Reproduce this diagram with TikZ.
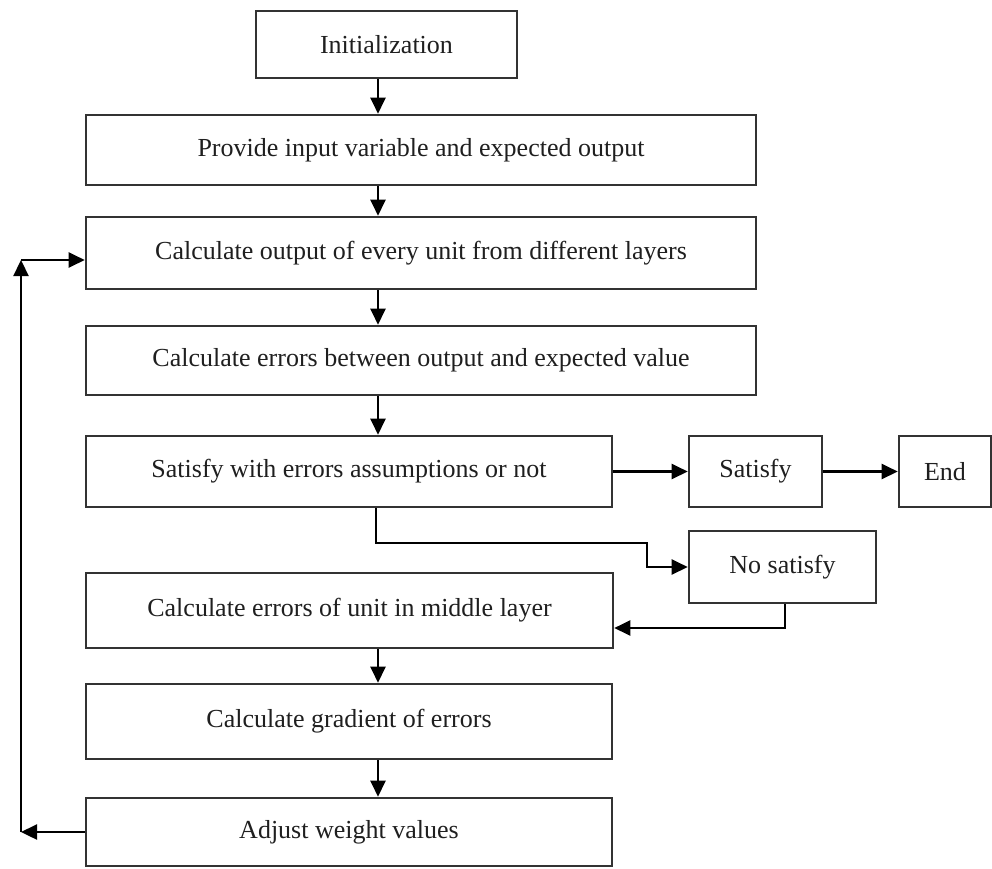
\documentclass[tikz,border=0pt]{standalone}
\usepackage{fontspec}
\setmainfont{Liberation Serif}
\usetikzlibrary{arrows.meta}
\begin{document}
\begin{tikzpicture}[x=1pt,y=-1pt,
  box/.style={draw=black!80, line width=2.6pt, fill=white, inner sep=0pt,
    font=\fontsize{26}{30}\selectfont, text=black!88},
  arr/.style={draw=black, line width=2.3pt, -{Triangle[length=16pt,width=15pt]}},
  ln/.style={draw=black, line width=2.3pt}]
\useasboundingbox (0,0) rectangle (992,868);
\fill[white] (0,0) rectangle (992,868);

% process boxes
\node[box, minimum width=261pt, minimum height=67pt] (init)    at (386.5,44.5) {Initialization};
\node[box, minimum width=670pt, minimum height=70pt] (provide) at (421,150)    {Provide input variable and expected output};
\node[box, minimum width=670pt, minimum height=72pt] (calcout) at (421,253)    {Calculate output of every unit from different layers};
\node[box, minimum width=670pt, minimum height=69pt] (calcerr) at (421,360.5)  {Calculate errors between output and expected value};
\node[box, minimum width=526pt, minimum height=71pt] (sat)     at (349,471.5)  {Satisfy with errors assumptions or not};
\node[box, minimum width=133pt, minimum height=71pt] (satisfy) at (755.5,471.5){Satisfy};
\node[box, minimum width=92pt,  minimum height=71pt] (endn)    at (945,471.5)  {End};
\node[box, minimum width=187pt, minimum height=72pt] (nosat)   at (782.5,567)  {No satisfy};
\node[box, minimum width=527pt, minimum height=75pt] (mid)     at (349.5,610.5){Calculate errors of unit in middle layer};
\node[box, minimum width=526pt, minimum height=75pt] (grad)    at (349,721.5)  {Calculate gradient of errors};
\node[box, minimum width=526pt, minimum height=68pt] (adjust)  at (349,832)    {Adjust weight values};

% main vertical flow
\coordinate (spine) at (378,0);
\draw[arr] (spine |- init.south)    -- (spine |- provide.north);
\draw[arr] (spine |- provide.south) -- (spine |- calcout.north);
\draw[arr] (spine |- calcout.south) -- (spine |- calcerr.north);
\draw[arr] (spine |- calcerr.south) -- (spine |- sat.north);
\draw[arr] (spine |- mid.south)     -- (spine |- grad.north);
\draw[arr] (spine |- grad.south)    -- (spine |- adjust.north);

% decision branches
\draw[arr] (sat.east) -- (satisfy.west);
\draw[arr] (satisfy.east) -- (endn.west);
\coordinate (b1) at (376,543);
\coordinate (b2) at (647,543);
\draw[arr] (b1 |- sat.south) -- (b1) -- (b2) -- (b2 |- nosat.west) -- (nosat.west);
\coordinate (r1) at (785,628);
\draw[arr] (r1 |- nosat.south) -- (r1) -- (r1 -| mid.east);

% feedback loop
\coordinate (lb) at (21,832);
\coordinate (lt) at (21,260);
\draw[arr] (adjust.west) -- (lb);
\draw[arr] (lb) -- (lt);
\draw[arr] (lt) -- (lt -| calcout.west);
\end{tikzpicture}
\end{document}
